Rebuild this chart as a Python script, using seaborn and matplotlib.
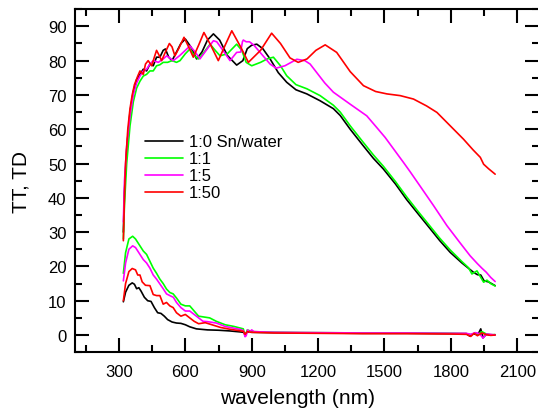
import matplotlib
matplotlib.use("Agg")
import matplotlib.pyplot as plt
from matplotlib.ticker import MultipleLocator
import seaborn as sns
import pandas as pd

# ---------------- data ----------------
labels = ["1:0 Sn/water", "1:1", "1:5", "1:50"]
colors = ["#000000", "#00ff00", "#ff00ff", "#ff0000"]

# total transmittance (TT)
wl_tt_k = [320,325,335,350,365,380,395,410,425,440,455,470,485,500,510,525,540,560,580,600,625,651,675,700,727,755,790,832,860,880,900,923,950,983,1020,1058,1100,1149,1209,1269,1300,1345,1400,1450,1495,1550,1600,1646,1700,1750,1797,1850,1902,1920,1935,1950,1970,2000]
tt_k = [30,42,54,65,71,74.5,76,77.5,77,79,78.5,81,81,83,83.4,81,80,82.5,85,86.3,84,80.5,82.5,86,87.8,86,81.5,78.7,80,83.5,84.5,84.8,83.5,80.5,76.5,73.7,71.5,70.3,68.3,66,64,60,55.5,51.5,48.4,44,39.5,35.8,31.5,27.5,24.1,21,18.3,17.6,17.5,15.8,15.5,14.4]

wl_tt_g = [320,325,335,350,365,380,395,410,425,440,455,470,485,500,520,540,560,576,600,621,640,659,685,712,735,757,790,832,855,875,900,940,970,998,1030,1058,1100,1149,1209,1269,1300,1345,1400,1450,1495,1550,1600,1646,1700,1750,1797,1850,1880,1895,1918,1935,1948,1963,1980,2000]
tt_g = [28,38,50,61,68,72,74,75.5,76,77,77,78.5,78.8,79.5,79.5,80,79.5,80,82,83.4,81.5,80.5,82.5,84.8,83,81.4,82,84.8,83,79.5,78.5,79.5,80.5,81,78.5,75.6,73,71.8,69.8,67,65,61,56.5,52.5,49.2,44.7,40.3,36.5,32.2,28.2,24.8,21.4,19.6,17.8,18.7,16.8,15.4,16,15,14.3]

wl_tt_m = [320,325,335,350,365,380,395,410,425,440,455,478,500,516,546,575,600,621,645,666,700,727,742,770,802,832,850,858,862,875,890,910,938,983,1010,1050,1104,1140,1164,1194,1230,1269,1345,1420,1465,1503,1586,1616,1660,1722,1782,1840,1887,1920,1940,1960,1980,2000]
tt_m = [33,45,55,64,70,73.5,75.5,77,77.5,79,80,79.5,80.5,81.4,80,81.5,83,84.3,82.5,80.5,83.5,85.8,85.5,83,80,82.4,82.5,85.5,86,85.5,85.5,84.5,82.4,79.0,77.8,78.5,80.4,80,79,76.5,73.5,70.8,67.3,63.9,60.5,57.6,50.3,47.6,43.5,37.7,31.9,27,23.1,20.8,19.5,18.3,16.8,15.6]

wl_tt_r = [320,325,330,340,350,360,370,385,395,410,420,432,448,460,470,482,493,510,528,540,553,570,594,615,636,660,684,715,749,780,810,850,885,940,990,1030,1073,1110,1150,1190,1232,1284,1345,1405,1460,1511,1571,1631,1690,1737,1797,1857,1900,1933,1948,1970,2000]
tt_r = [27.5,40,50,60,66,70,73,75.5,77,76,79,80,78.5,81,83,81.5,80,82.5,85,84,81.4,83.5,86.8,84,81,84.5,88.2,84.5,80,84.5,88.7,84,79.5,83,88,85,80.8,79.5,80.5,83,84.6,82.4,76.8,72.7,71,70.3,69.8,68.8,66.8,64.9,61,57.1,54,51.8,49.8,48.5,46.9]

# diffuse transmittance (TD)
wl_td_k = [320,330,345,360,370,380,390,400,415,430,445,460,475,490,505,520,540,560,580,600,620,650,700,750,800,850,862,870,880,900,1000,1200,1400,1600,1800,1870,1885,1900,1915,1925,1935,1945,1960,1980,2000]
td_k = [9.7,12.5,14.5,15.2,14.8,13.5,13.8,12.8,11,10,9.8,8,6.5,6.3,5.5,4.5,3.8,3.5,3.4,3,2.4,1.8,1.5,1.4,1.2,0.9,0.8,0.2,0.9,0.8,0.7,0.6,0.5,0.5,0.4,0.4,-0.3,0.3,0.2,0.5,1.8,-0.8,0.2,0,0.1]

wl_td_g = [320,330,345,362,375,390,410,425,440,455,470,485,500,515,530,545,560,580,600,620,640,660,690,710,740,780,820,850,862,870,880,900,1000,1200,1400,1600,1800,1870,1890,1910,1925,1940,1960,1980,2000]
td_g = [18,24,28,28.8,28,26.5,24.5,23.5,21.5,19.5,18,16.3,15,13.4,12.4,12,10.8,9,8.5,8.5,7,5.5,5.2,5,4,3,2.5,2,1.8,-0.3,1.5,1,0.8,0.7,0.6,0.6,0.5,0.4,0.1,0.6,0.2,1.0,0.3,0.1,0.1]

wl_td_m = [320,330,345,362,375,390,410,425,440,455,470,485,500,515,530,546,560,580,600,620,640,660,680,700,740,780,820,850,862,870,875,882,890,900,910,950,1000,1200,1400,1600,1800,1870,1890,1910,1930,1945,1960,1980,2000]
td_m = [15.8,21,25,26,25.5,24,22,21,19.5,17.5,16.3,14.9,13.5,12,11.5,11,9.5,8,7,7,6,5,4,3.9,3.5,2.5,2,1.6,1.3,-0.5,-0.2,1.5,0.8,1.5,1,0.9,0.8,0.7,0.6,0.6,0.5,0.5,0.2,0.7,0.4,-0.9,0.3,0.2,0]

wl_td_r = [320,330,345,360,375,385,395,405,420,440,455,470,485,500,515,530,545,560,580,600,620,640,660,690,720,760,800,850,862,870,880,900,1000,1200,1400,1600,1800,1870,1890,1905,1920,1940,1960,1980,2000]
td_r = [10,15,18.5,19.4,19,17.5,17.5,15.5,14.5,14.4,11.8,11.5,11.5,9,9.5,8.5,8,6.5,5.5,6,5,4,3.3,3.6,3,2.2,1.7,1.2,1.1,0.2,1.0,0.8,0.6,0.5,0.4,0.4,0.3,0.2,-0.4,0.5,-0.2,0.6,0.1,-0.1,0]

x_ticks = [300, 600, 900, 1200, 1500, 1800, 2100]
y_ticks = [0, 10, 20, 30, 40, 50, 60, 70, 80, 90]

tt_sets = [(wl_tt_k, tt_k), (wl_tt_g, tt_g), (wl_tt_m, tt_m), (wl_tt_r, tt_r)]
td_sets = [(wl_td_k, td_k), (wl_td_g, td_g), (wl_td_m, td_m), (wl_td_r, td_r)]

# ---------------- style ----------------
sns.set_style("ticks")
plt.rcParams["font.family"] = ["Liberation Sans", "DejaVu Sans"]
plt.rcParams["text.color"] = "black"
plt.rcParams["axes.labelcolor"] = "black"
plt.rcParams["xtick.color"] = "black"
plt.rcParams["ytick.color"] = "black"
plt.rcParams["axes.edgecolor"] = "black"

fig = plt.figure(figsize=(5.38, 4.14), dpi=100)
ax = fig.add_axes([0.1388, 0.1469, 0.8638, 0.8285])

for (lab, col, (wt, vt), (wd, vd)) in zip(labels, colors, tt_sets, td_sets):
    df_tt = pd.DataFrame({"wavelength": wt, "value": vt})
    df_td = pd.DataFrame({"wavelength": wd, "value": vd})
    sns.lineplot(data=df_tt, x="wavelength", y="value", color=col, lw=1.2,
                 label=lab, ax=ax, legend=False)
    sns.lineplot(data=df_td, x="wavelength", y="value", color=col, lw=1.2,
                 ax=ax, legend=False)

ax.set_xlim(100, 2200)
ax.set_ylim(-5, 95)
ax.set_xticks(x_ticks)
ax.set_yticks(y_ticks)
ax.xaxis.set_minor_locator(MultipleLocator(150))
ax.yaxis.set_minor_locator(MultipleLocator(5))

for s in ax.spines.values():
    s.set_linewidth(1.5)
    s.set_color("black")

ax.tick_params(which="both", direction="in", top=True, right=True,
               width=1.5, color="black", labelcolor="black")
ax.tick_params(which="major", length=10)
ax.tick_params(which="minor", length=5)
ax.tick_params(axis="x", which="major", pad=8.5, labelsize=12)
ax.tick_params(axis="y", which="major", pad=5.8, labelsize=12)

ax.set_xlabel("wavelength (nm)", fontsize=15, color="black")
ax.set_ylabel("TT, TD", fontsize=15, color="black")
ax.xaxis.set_label_coords(0.48, -0.104)
ax.yaxis.set_label_coords(-0.094, 0.5)

handles, labs = ax.get_legend_handles_labels()
leg = ax.legend(handles, labs, loc="center left", bbox_to_anchor=(0.1513, 0.5385),
                frameon=False, fontsize=12, handlelength=2.3, handletextpad=0.35,
                labelspacing=0.12, borderpad=0, borderaxespad=0)
for t in leg.get_texts():
    t.set_color("black")

fig.savefig("out.png", dpi=100)
